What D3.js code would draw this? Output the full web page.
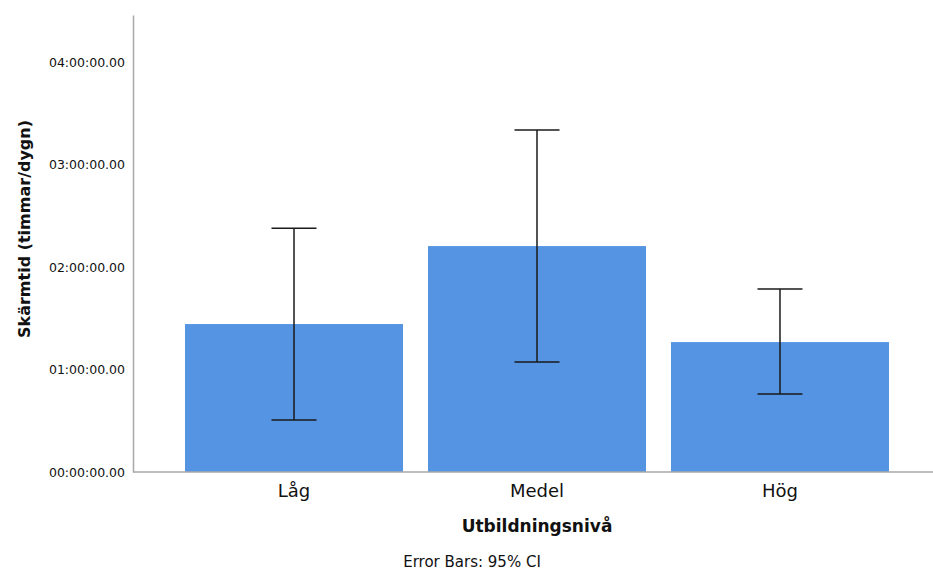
<!DOCTYPE html>
<html>
<head>
<meta charset="utf-8">
<script src="https://cdn.jsdelivr.net/npm/d3@7"></script>
<style>
  body { margin: 0; background: #fff; }
  text { font-family: "DejaVu Sans", sans-serif; fill: #111; }
</style>
</head>
<body>
<svg id="chart" width="933" height="571"></svg>
<script>
// data (hours per day)
const categories = ["Låg", "Medel", "Hög"];
const means  = [1.444, 2.205, 1.268];
const ciLow  = [0.507, 1.073, 0.761];
const ciHigh = [2.380, 3.337, 1.785];
const yTicks = [0, 1, 2, 3, 4];

const svg = d3.select("#chart");

// plot area
const plotLeft = 133, plotTop = 15, plotBottom = 472, plotRight = 933;

const y = d3.scaleLinear()
    .domain([0, 4.46])
    .range([plotBottom, plotTop]);

const x = d3.scaleBand()
    .domain(categories)
    .range([172.5, 901.5])
    .paddingInner(25 / 243)
    .paddingOuter(0.0515);

const fmt = h => d3.format("02d")(h) + ":00:00.00";

// bars
svg.selectAll("rect.bar")
  .data(categories)
  .enter().append("rect")
    .attr("class", "bar")
    .attr("x", d => x(d))
    .attr("width", x.bandwidth())
    .attr("y", (d, i) => y(means[i]))
    .attr("height", (d, i) => y(0) - y(means[i]))
    .attr("fill", "#5594e2");

// axes
const yAxis = svg.append("g")
    .attr("transform", `translate(${plotLeft},0)`)
    .call(d3.axisLeft(y).tickValues(yTicks).tickFormat(fmt).tickSize(0).tickPadding(8));
yAxis.select(".domain").attr("stroke", "#a8a8a8").attr("stroke-width", 1.5);
yAxis.selectAll("text").attr("font-size", 12.5).attr("fill", "#222")
    .attr("font-family", "DejaVu Sans");

svg.append("line")
    .attr("x1", plotLeft).attr("x2", plotRight)
    .attr("y1", plotBottom).attr("y2", plotBottom)
    .attr("stroke", "#a8a8a8").attr("stroke-width", 1.5);

// error bars
const cap = 45;
const eb = svg.selectAll("g.err")
  .data(categories)
  .enter().append("g")
    .attr("class", "err")
    .attr("stroke", "#1a1a1a")
    .attr("stroke-width", 1.5);
eb.append("line")
    .attr("x1", d => x(d) + x.bandwidth() / 2)
    .attr("x2", d => x(d) + x.bandwidth() / 2)
    .attr("y1", (d, i) => y(ciLow[i]))
    .attr("y2", (d, i) => y(ciHigh[i]));
eb.append("line")
    .attr("x1", d => x(d) + x.bandwidth() / 2 - cap / 2)
    .attr("x2", d => x(d) + x.bandwidth() / 2 + cap / 2)
    .attr("y1", (d, i) => y(ciHigh[i]))
    .attr("y2", (d, i) => y(ciHigh[i]));
eb.append("line")
    .attr("x1", d => x(d) + x.bandwidth() / 2 - cap / 2)
    .attr("x2", d => x(d) + x.bandwidth() / 2 + cap / 2)
    .attr("y1", (d, i) => y(ciLow[i]))
    .attr("y2", (d, i) => y(ciLow[i]));

// category labels
svg.selectAll("text.cat")
  .data(categories)
  .enter().append("text")
    .attr("class", "cat")
    .attr("x", d => x(d) + x.bandwidth() / 2)
    .attr("y", 497)
    .attr("text-anchor", "middle")
    .attr("font-size", 18)
    .text(d => d);

// titles
svg.append("text")
    .attr("x", 537).attr("y", 532)
    .attr("text-anchor", "middle")
    .attr("font-size", 17).attr("font-weight", "bold")
    .text("Utbildningsnivå");

svg.append("text")
    .attr("transform", "translate(30,229) rotate(-90)")
    .attr("text-anchor", "middle")
    .attr("font-size", 16).attr("font-weight", "bold")
    .text("Skärmtid (timmar/dygn)");

svg.append("text")
    .attr("x", 472).attr("y", 567)
    .attr("text-anchor", "middle")
    .attr("font-size", 15)
    .text("Error Bars: 95% CI");
</script>
</body>
</html>
